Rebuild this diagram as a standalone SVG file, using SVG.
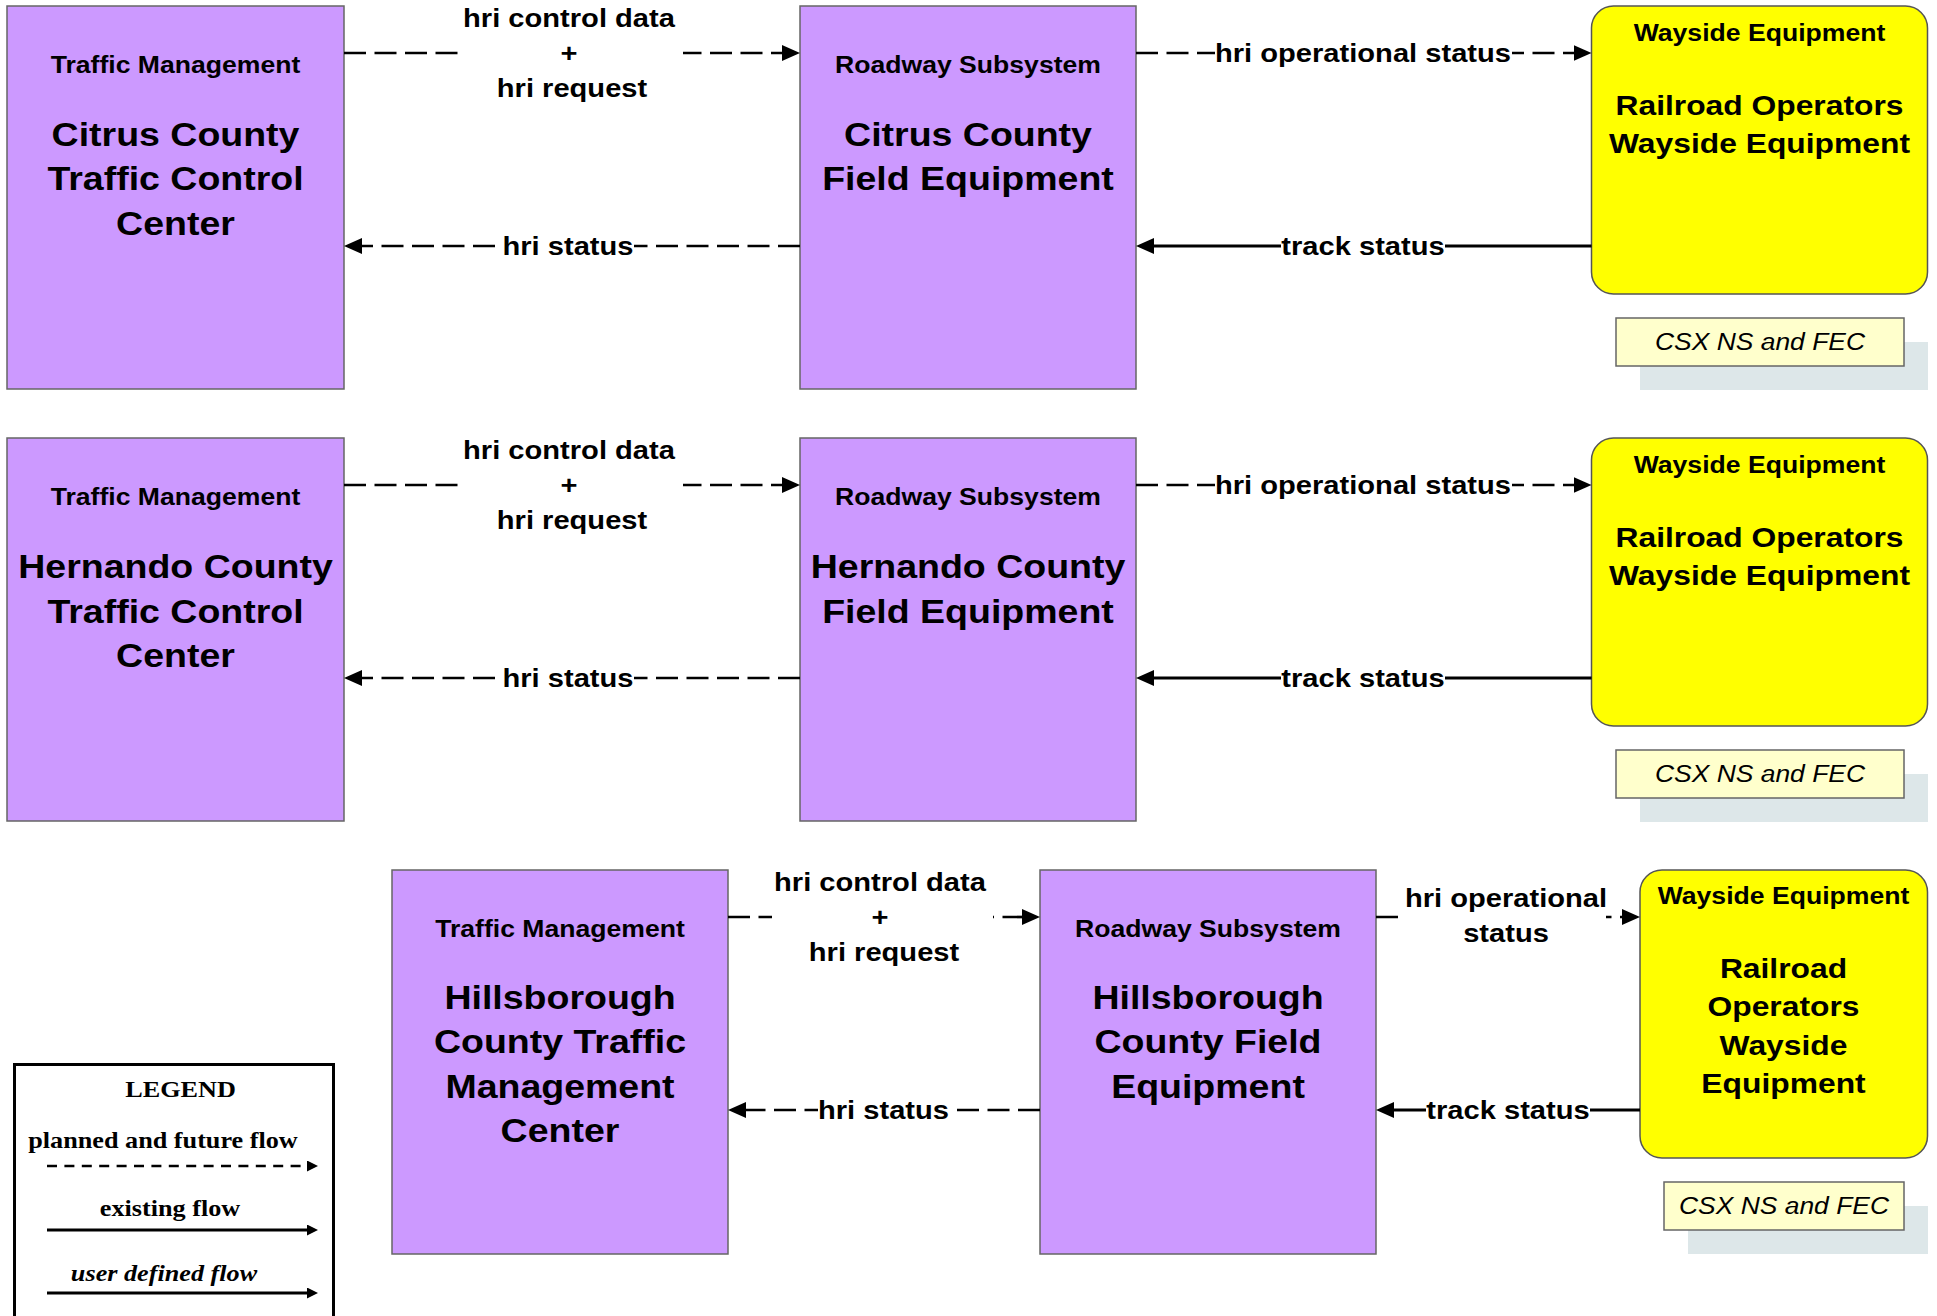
<svg xmlns="http://www.w3.org/2000/svg" width="1937" height="1316" viewBox="0 0 1937 1316">
<style>
.pb{fill:#cc99ff;stroke:#666;stroke-width:1.5}
.yb{fill:#ffff00;stroke:#555;stroke-width:1.5}
.lab{fill:#ffffcc;stroke:#666;stroke-width:1.5}
.sh{fill:#dde7e9}
.bg{fill:#fff}
text{font-family:"Liberation Sans",Arial,sans-serif;font-weight:bold;fill:#000;text-anchor:middle}
.st{font-size:23.75px}
.pt{font-size:33.5px}
.yt{font-size:28.4px}
.lb{font-size:26px}
.cs{font-size:23.6px;font-weight:normal;font-style:italic}
.lg{font-family:"Liberation Serif","Times New Roman",serif;font-size:23.4px}
.lgi{font-style:italic}
.dash{stroke:#000;stroke-width:2.7;stroke-dasharray:22 8.5;fill:none;marker-end:url(#ah)}
.solid{stroke:#000;stroke-width:3;fill:none;marker-end:url(#ah)}
.ldash{stroke:#000;stroke-width:2.7;stroke-dasharray:10 7.4;fill:none;marker-end:url(#as)}
.lsolid{stroke:#000;stroke-width:3;fill:none;marker-end:url(#as)}
</style>
<defs>
<marker id="ah" markerUnits="userSpaceOnUse" markerWidth="20" markerHeight="18" refX="8" refY="8" orient="auto"><path d="M0,0 L18,8 L0,16 z" fill="#000"/></marker>
<marker id="as" markerUnits="userSpaceOnUse" markerWidth="12" markerHeight="12" refX="5" refY="5.5" orient="auto"><path d="M0,0 L11,5.5 L0,11 z" fill="#000"/></marker>
</defs>
<rect width="1937" height="1316" fill="#fff"/>

<!-- Row 1 nodes -->
<g id="tm-citrus">
<rect class="pb" x="7" y="6" width="337" height="383"/>
<g transform="translate(175.5 0) scale(1.12 1)">
<text class="st" y="73">Traffic Management</text>
<text class="pt" y="146">Citrus County</text>
<text class="pt" y="190.5">Traffic Control</text>
<text class="pt" y="235">Center</text>
</g>
</g>
<g id="rs-citrus">
<rect class="pb" x="800" y="6" width="336" height="383"/>
<g transform="translate(968 0) scale(1.12 1)">
<text class="st" y="73">Roadway Subsystem</text>
<text class="pt" y="146">Citrus County</text>
<text class="pt" y="190.5">Field Equipment</text>
</g>
</g>
<g id="we-citrus">
<rect class="yb" x="1591.5" y="6" width="336" height="288" rx="22"/>
<g transform="translate(1759.5 0) scale(1.12 1)">
<text class="st" y="41">Wayside Equipment</text>
<text class="yt" y="115">Railroad Operators</text>
<text class="yt" y="153">Wayside Equipment</text>
</g>
</g>
<g id="csx-citrus">
<rect class="sh" x="1640" y="342" width="288" height="48"/>
<rect class="lab" x="1616" y="318" width="288" height="48"/>
<g transform="translate(1760 0) scale(1.12 1)"><text class="cs" y="350.5">CSX NS and FEC</text></g>
</g>

<!-- Row 2 nodes -->
<g id="tm-hernando">
<rect class="pb" x="7" y="438" width="337" height="383"/>
<g transform="translate(175.5 0) scale(1.12 1)">
<text class="st" y="505">Traffic Management</text>
<text class="pt" y="578">Hernando County</text>
<text class="pt" y="622.5">Traffic Control</text>
<text class="pt" y="667">Center</text>
</g>
</g>
<g id="rs-hernando">
<rect class="pb" x="800" y="438" width="336" height="383"/>
<g transform="translate(968 0) scale(1.12 1)">
<text class="st" y="505">Roadway Subsystem</text>
<text class="pt" y="578">Hernando County</text>
<text class="pt" y="622.5">Field Equipment</text>
</g>
</g>
<g id="we-hernando">
<rect class="yb" x="1591.5" y="438" width="336" height="288" rx="22"/>
<g transform="translate(1759.5 0) scale(1.12 1)">
<text class="st" y="473">Wayside Equipment</text>
<text class="yt" y="547">Railroad Operators</text>
<text class="yt" y="585">Wayside Equipment</text>
</g>
</g>
<g id="csx-hernando">
<rect class="sh" x="1640" y="774" width="288" height="48"/>
<rect class="lab" x="1616" y="750" width="288" height="48"/>
<g transform="translate(1760 0) scale(1.12 1)"><text class="cs" y="782.5">CSX NS and FEC</text></g>
</g>

<!-- Row 3 nodes -->
<g id="tm-hillsborough">
<rect class="pb" x="392" y="870" width="336" height="384"/>
<g transform="translate(560 0) scale(1.12 1)">
<text class="st" y="937">Traffic Management</text>
<text class="pt" y="1009">Hillsborough</text>
<text class="pt" y="1053.5">County Traffic</text>
<text class="pt" y="1098">Management</text>
<text class="pt" y="1142.5">Center</text>
</g>
</g>
<g id="rs-hillsborough">
<rect class="pb" x="1040" y="870" width="336" height="384"/>
<g transform="translate(1208 0) scale(1.12 1)">
<text class="st" y="937">Roadway Subsystem</text>
<text class="pt" y="1009">Hillsborough</text>
<text class="pt" y="1053.5">County Field</text>
<text class="pt" y="1098">Equipment</text>
</g>
</g>
<g id="we-hillsborough">
<rect class="yb" x="1640" y="870" width="287.5" height="288" rx="22"/>
<g transform="translate(1783.5 0) scale(1.12 1)">
<text class="st" y="904">Wayside Equipment</text>
<text class="yt" y="978">Railroad</text>
<text class="yt" y="1016.5">Operators</text>
<text class="yt" y="1055">Wayside</text>
<text class="yt" y="1093.5">Equipment</text>
</g>
</g>
<g id="csx-hillsborough">
<rect class="sh" x="1688" y="1206" width="240" height="48"/>
<rect class="lab" x="1664" y="1182" width="240" height="48"/>
<g transform="translate(1784 0) scale(1.12 1)"><text class="cs" y="1214.5">CSX NS and FEC</text></g>
</g>

<!-- Connectors -->
<g id="connectors">
<line class="dash" x1="344" y1="53" x2="790" y2="53"/>
<line class="dash" x1="800" y1="246" x2="354" y2="246"/>
<line class="dash" x1="1136" y1="53" x2="1581.5" y2="53"/>
<line class="solid" x1="1591.5" y1="246" x2="1146" y2="246"/>

<line class="dash" x1="344" y1="485" x2="790" y2="485"/>
<line class="dash" x1="800" y1="678" x2="354" y2="678"/>
<line class="dash" x1="1136" y1="485" x2="1581.5" y2="485"/>
<line class="solid" x1="1591.5" y1="678" x2="1146" y2="678"/>

<line class="dash" x1="728" y1="917" x2="1030" y2="917"/>
<line class="dash" x1="1040" y1="1110" x2="738" y2="1110"/>
<line class="dash" x1="1376" y1="917" x2="1630" y2="917"/>
<line class="solid" x1="1640" y1="1110" x2="1386" y2="1110"/>

<!-- row 1 labels -->
<rect class="bg" x="460" y="5" width="223" height="100"/>
<g transform="translate(569 0) scale(1.12 1)"><text class="lb" y="27">hri control data</text><text class="lb" y="62.5">+</text></g>
<g transform="translate(572 0) scale(1.12 1)"><text class="lb" y="97">hri request</text></g>
<rect class="bg" x="503" y="233" width="131" height="26"/>
<g transform="translate(568 0) scale(1.12 1)"><text class="lb" y="255">hri status</text></g>
<rect class="bg" x="1215" y="40" width="297" height="26"/>
<g transform="translate(1363 0) scale(1.12 1)"><text class="lb" y="62.5">hri operational status</text></g>
<rect class="bg" x="1281" y="233" width="164" height="26"/>
<g transform="translate(1363 0) scale(1.12 1)"><text class="lb" y="255">track status</text></g>

<!-- row 2 labels -->
<rect class="bg" x="460" y="437" width="223" height="100"/>
<g transform="translate(569 0) scale(1.12 1)"><text class="lb" y="459">hri control data</text><text class="lb" y="494.5">+</text></g>
<g transform="translate(572 0) scale(1.12 1)"><text class="lb" y="529">hri request</text></g>
<rect class="bg" x="503" y="665" width="131" height="26"/>
<g transform="translate(568 0) scale(1.12 1)"><text class="lb" y="687">hri status</text></g>
<rect class="bg" x="1215" y="472" width="297" height="26"/>
<g transform="translate(1363 0) scale(1.12 1)"><text class="lb" y="494.5">hri operational status</text></g>
<rect class="bg" x="1281" y="665" width="164" height="26"/>
<g transform="translate(1363 0) scale(1.12 1)"><text class="lb" y="687">track status</text></g>

<!-- row 3 labels -->
<rect class="bg" x="772" y="869" width="221" height="100"/>
<g transform="translate(880 0) scale(1.12 1)"><text class="lb" y="891">hri control data</text><text class="lb" y="926.5">+</text></g>
<g transform="translate(884 0) scale(1.12 1)"><text class="lb" y="961">hri request</text></g>
<rect class="bg" x="818" y="1097" width="131" height="26"/>
<g transform="translate(883.5 0) scale(1.12 1)"><text class="lb" y="1119">hri status</text></g>
<rect class="bg" x="1398" y="880" width="208" height="72"/>
<g transform="translate(1506 0) scale(1.12 1)"><text class="lb" y="907">hri operational</text><text class="lb" y="942">status</text></g>
<rect class="bg" x="1426" y="1097" width="164" height="26"/>
<g transform="translate(1508 0) scale(1.12 1)"><text class="lb" y="1119">track status</text></g>
</g>

<!-- Legend -->
<g id="legend">
<rect x="14.5" y="1064.5" width="319" height="300" fill="#fff" stroke="#000" stroke-width="3"/>
<g transform="translate(180.5 0) scale(1.12 1)"><text class="lg" y="1097">LEGEND</text></g>
<g transform="translate(163 0) scale(1.12 1)"><text class="lg" y="1148">planned and future flow</text></g>
<line class="ldash" x1="47" y1="1166" x2="312" y2="1166"/>
<g transform="translate(170 0) scale(1.12 1)"><text class="lg" y="1216.5">existing flow</text></g>
<line class="lsolid" x1="47" y1="1230" x2="312" y2="1230"/>
<g transform="translate(164 0) scale(1.12 1)"><text class="lg lgi" y="1281.5">user defined flow</text></g>
<line class="lsolid" x1="47" y1="1293" x2="312" y2="1293"/>
</g>
</svg>
